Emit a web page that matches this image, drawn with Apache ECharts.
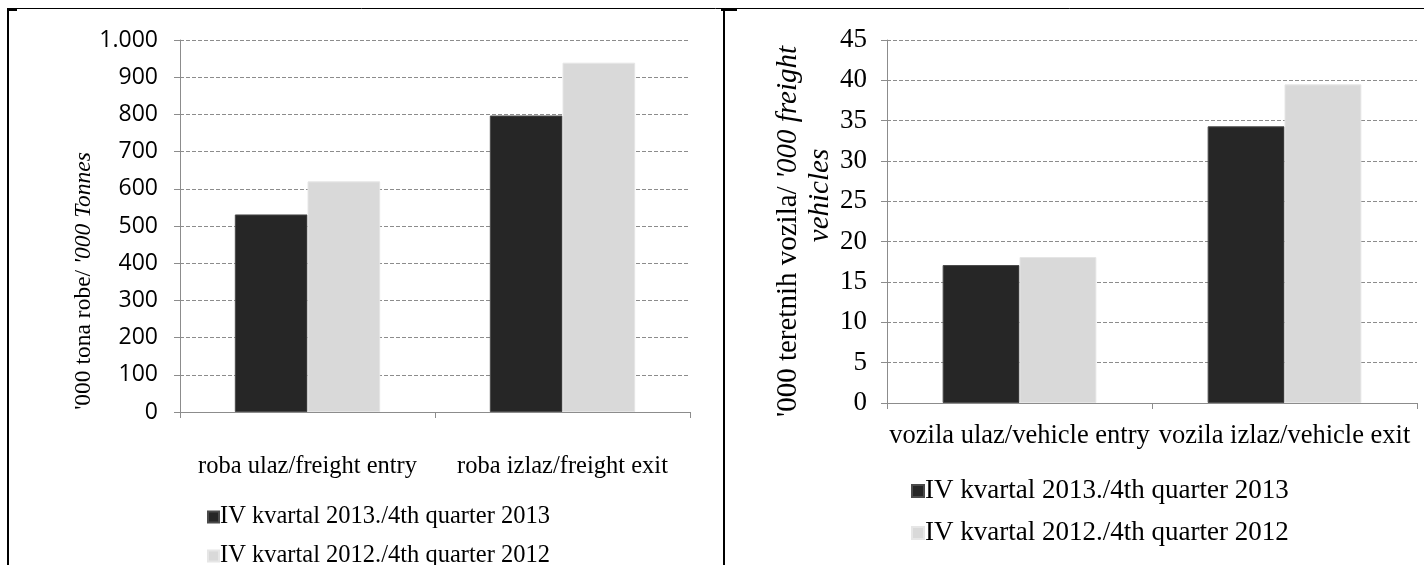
<!DOCTYPE html>
<html>
<head>
<meta charset="utf-8">
<script src="https://cdn.jsdelivr.net/npm/echarts@6/dist/echarts.min.js"></script>
<style>
html,body{margin:0;padding:0;background:#fff;}
#c{width:1424px;height:565px;}
</style>
</head>
<body>
<div id="c"></div>
<script>
const seriesNames = ['IV kvartal 2013./4th quarter 2013', 'IV kvartal 2012./4th quarter 2012'];
const freightCategories = ['roba ulaz/freight entry', 'roba izlaz/freight exit'];
const freight2013 = [531, 797];
const freight2012 = [620, 939];
const freightTicks = ['0', '100', '200', '300', '400', '500', '600', '700', '800', '900', '1.000'];
const vehicleCategories = ['vozila ulaz/vehicle entry', 'vozila izlaz/vehicle exit'];
const vehicles2013 = [17.1, 34.3];
const vehicles2012 = [18.1, 39.5];
const vehicleTicks = ['0', '5', '10', '15', '20', '25', '30', '35', '40', '45'];

const SERIF = '"Liberation Serif", "Times New Roman", serif';
const SANS = '"Open Sans", "Liberation Sans", sans-serif';
const DARK = '#262626', LIGHT = '#d9d9d9', GRIDC = '#8c8c8c';

const chart = echarts.init(document.getElementById('c'));

function valueAxis(gridIndex, max, interval, ticks, font, size, margin, name, gap) {
  return {
    type: 'value', gridIndex, min: 0, max, interval,
    axisLine: { show: true, lineStyle: { color: GRIDC, width: 1 } },
    axisTick: { show: true, length: 6, lineStyle: { color: GRIDC } },
    splitLine: { show: true, lineStyle: { color: GRIDC, type: [4, 2], width: 1 } },
    axisLabel: { fontFamily: font, fontSize: size, color: '#000', margin,
      formatter: v => ticks[Math.round(v / interval)] },
    name: name.text, nameLocation: 'middle', nameRotate: 90, nameGap: gap,
    nameTextStyle: name.style
  };
}
function catAxis(gridIndex, data, size, margin) {
  return {
    type: 'category', gridIndex, data,
    axisLine: { show: true, lineStyle: { color: GRIDC, width: 1 } },
    axisTick: { show: true, length: 6, lineStyle: { color: GRIDC } },
    axisLabel: { fontFamily: SERIF, fontSize: size, color: '#000', margin, interval: 0 }
  };
}
function bars(name, data, xi, color, border, gapPct) {
  return {
    type: 'bar', name, data, xAxisIndex: xi, yAxisIndex: xi,
    barGap: '0%', barCategoryGap: gapPct,
    itemStyle: { color, borderColor: border, borderWidth: 1 },
    emphasis: { disabled: true }, animation: false
  };
}

const option = {
  animation: false,
  grid: [
    { left: 180, right: 734, top: 40, bottom: 153 },
    { left: 887, right: 7, top: 40, bottom: 162 }
  ],
  xAxis: [catAxis(0, freightCategories, 24.5, 42), catAxis(1, vehicleCategories, 26.5, 20)],
  yAxis: [
    valueAxis(0, 1000, 100, freightTicks, SANS, 23, 22, {
      text: "{a|'000 tona robe/ }{b|'000 Tonnes}",
      style: { padding: [0, 110, 0, 0], rich: {
        a: { fontFamily: SERIF, fontSize: 23.5, color: '#000' },
        b: { fontFamily: SERIF, fontSize: 23.5, fontStyle: 'italic', color: '#000' } } }
    }, 62),
    valueAxis(1, 45, 5, vehicleTicks, SERIF, 27, 20, {
      text: "{a|'000 teretnih vozila/ }{b|'000 freight}\n{c|vehicles}",
      style: { lineHeight: 32, padding: [0, 20, 0, 0], rich: {
        a: { fontFamily: SERIF, fontSize: 29, color: '#000', lineHeight: 32 },
        b: { fontFamily: SERIF, fontSize: 29, fontStyle: 'italic', color: '#000', lineHeight: 32 },
        c: { fontFamily: SERIF, fontSize: 29, fontStyle: 'italic', color: '#000', lineHeight: 32, padding: [0, 0, 0, 72] } } }
    }, 50)
  ],
  legend: [
    { data: seriesNames, orient: 'vertical', left: 202, top: 499.5, height: 120, itemWidth: 11, itemHeight: 11,
      itemGap: 14, icon: 'rect', selectedMode: false,
      textStyle: { fontFamily: SERIF, fontSize: 24.5, lineHeight: 25, color: '#000', padding: [0, 0, 0, -4] } },
    { data: seriesNames, orient: 'vertical', left: 906, top: 472.5, height: 120, itemWidth: 12, itemHeight: 12,
      itemGap: 15, icon: 'rect', selectedMode: false,
      textStyle: { fontFamily: SERIF, fontSize: 27, lineHeight: 27, color: '#000', padding: [0, 0, 0, -4] } }
  ],
  series: [
    bars(seriesNames[0], freight2013, 0, DARK, '#4a4a4a', '43%'),
    bars(seriesNames[1], freight2012, 0, LIGHT, '#e6e6e6', '43%'),
    bars(seriesNames[0], vehicles2013, 1, DARK, '#4a4a4a', '42%'),
    bars(seriesNames[1], vehicles2012, 1, LIGHT, '#e6e6e6', '42%')
  ],
  graphic: [
    { type: 'line', shape: { x1: 7, y1: 8.5, x2: 1424, y2: 8.5 }, style: { stroke: '#000', lineWidth: 1 }, silent: true },
    { type: 'line', shape: { x1: 8, y1: 9, x2: 8, y2: 565 }, style: { stroke: '#000', lineWidth: 2 }, silent: true },
    { type: 'line', shape: { x1: 7, y1: 10, x2: 17, y2: 10 }, style: { stroke: '#000', lineWidth: 2 }, silent: true },
    { type: 'line', shape: { x1: 724, y1: 9, x2: 724, y2: 565 }, style: { stroke: '#000', lineWidth: 2 }, silent: true },
    { type: 'line', shape: { x1: 721, y1: 10, x2: 737, y2: 10 }, style: { stroke: '#000', lineWidth: 2 }, silent: true }
  ]
};
chart.setOption(option);
</script>
</body>
</html>
